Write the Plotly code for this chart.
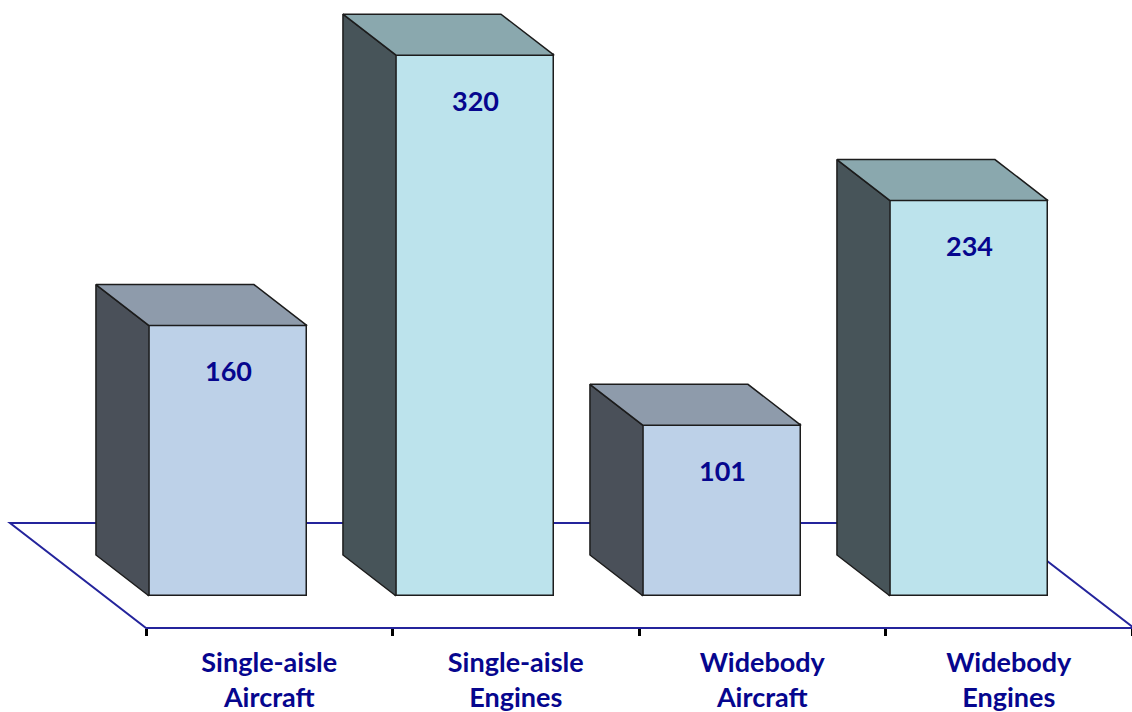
import plotly.graph_objects as go

# ---- data ----
categories = ["Single-aisle Aircraft", "Single-aisle Engines", "Widebody Aircraft", "Widebody Engines"]
values = [160, 320, 101, 234]
kinds = ["aircraft", "engines", "aircraft", "engines"]

# ---- style / projection constants ----
W, H = 1132, 712
PX_PER_CAT = 247.0
PX_PER_VAL = 1.69
X0_PX = 269.5          # pixel of first category centre at front of floor
Y0_PX = 628.0          # pixel of value 0 at front of floor
KX = 136.0 / PX_PER_CAT   # depth shift (category units) for full floor depth
KY = 105.0 / PX_PER_VAL   # depth shift (value units) for full floor depth
Z1, Z2 = 32.0 / 105.0, 73.0 / 105.0   # bar front/back depth
BAR_W = 158.0 / PX_PER_CAT

face = {
    "aircraft": dict(front="#bdd1e8", top="#8e9bab", side="#4a5059"),
    "engines": dict(front="#bce3ec", top="#8aa8ae", side="#475459"),
}
EDGE = "#1c1c1c"
NAVY = "#06068e"
FLOOR = "#24249c"
FONT = "Lato"


def proj(x, v, z):
    return x - z * KX, v + z * KY


fig = go.Figure()
n = len(categories)

# floor (drawn beneath all traces)
corners = [(-0.5, 0), (n - 0.5, 0), (n - 0.5, 1), (-0.5, 1)]
fpts = [proj(x, 0, z) for x, z in corners]
path = "M " + " L ".join(f"{px},{py}" for px, py in fpts) + " Z"
fig.add_shape(type="path", path=path, xref="x", yref="y", layer="below",
              line=dict(color=FLOOR, width=2), fillcolor="rgba(0,0,0,0)")

front_x = []
for i, (v, k) in enumerate(zip(values, kinds)):
    c = face[k]
    xl, xr = i - BAR_W / 2, i + BAR_W / 2
    # side face (left)
    pts = [proj(xl, 0, Z1), proj(xl, v, Z1), proj(xl, v, Z2), proj(xl, 0, Z2), proj(xl, 0, Z1)]
    sx, sy = zip(*pts)
    fig.add_trace(go.Scatter(x=sx, y=sy, mode="lines", fill="toself", fillcolor=c["side"],
                             line=dict(color=EDGE, width=1.5), hoverinfo="skip", showlegend=False))
    # top face
    pts = [proj(xl, v, Z1), proj(xr, v, Z1), proj(xr, v, Z2), proj(xl, v, Z2), proj(xl, v, Z1)]
    tx, ty = zip(*pts)
    fig.add_trace(go.Scatter(x=tx, y=ty, mode="lines", fill="toself", fillcolor=c["top"],
                             line=dict(color=EDGE, width=1.5), hoverinfo="skip", showlegend=False))
    front_x.append(proj(i, 0, Z1)[0])

# front faces
fig.add_trace(go.Bar(
    x=front_x, y=values, base=[Z1 * KY] * n, width=BAR_W,
    marker=dict(color=[face[k]["front"] for k in kinds], line=dict(color=EDGE, width=1.5)),
    hoverinfo="skip", showlegend=False))

# value labels
for fxv, v in zip(front_x, values):
    fig.add_annotation(x=fxv, y=v + Z1 * KY, text=str(v), showarrow=False, yshift=-45,
                       font=dict(family=FONT, size=27, color=NAVY, weight="bold"))

# category axis helper trace
labels = [c.replace(" ", "<br>") for c in categories]
fig.add_trace(go.Scatter(x=labels, y=[0] * n, xaxis="x2", mode="markers",
                         marker=dict(opacity=0), hoverinfo="skip", showlegend=False))

x_lo = -X0_PX / PX_PER_CAT
x_hi = (W - X0_PX) / PX_PER_CAT
y_lo = -(H - Y0_PX) / PX_PER_VAL
y_hi = Y0_PX / PX_PER_VAL

fig.update_layout(
    width=W, height=H, margin=dict(l=0, r=0, t=0, b=0),
    paper_bgcolor="white", plot_bgcolor="rgba(0,0,0,0)",
    xaxis=dict(range=[x_lo, x_hi], visible=False, fixedrange=True),
    yaxis=dict(range=[y_lo, y_hi], visible=False, fixedrange=True),
    xaxis2=dict(type="category", domain=[(X0_PX - PX_PER_CAT / 2) / W, 1], anchor="free",
                position=1 - Y0_PX / H, range=[-0.5, n - 0.5], categoryarray=labels,
                tickson="boundaries", ticks="outside", ticklen=7, tickwidth=2.5, tickcolor="black",
                ticklabelstandoff=16,
                showline=False, showgrid=False, zeroline=False,
                tickfont=dict(family=FONT, size=27, color=NAVY, weight="bold"),
                fixedrange=True),
    bargap=0,
)

fig.write_html("out.html")
